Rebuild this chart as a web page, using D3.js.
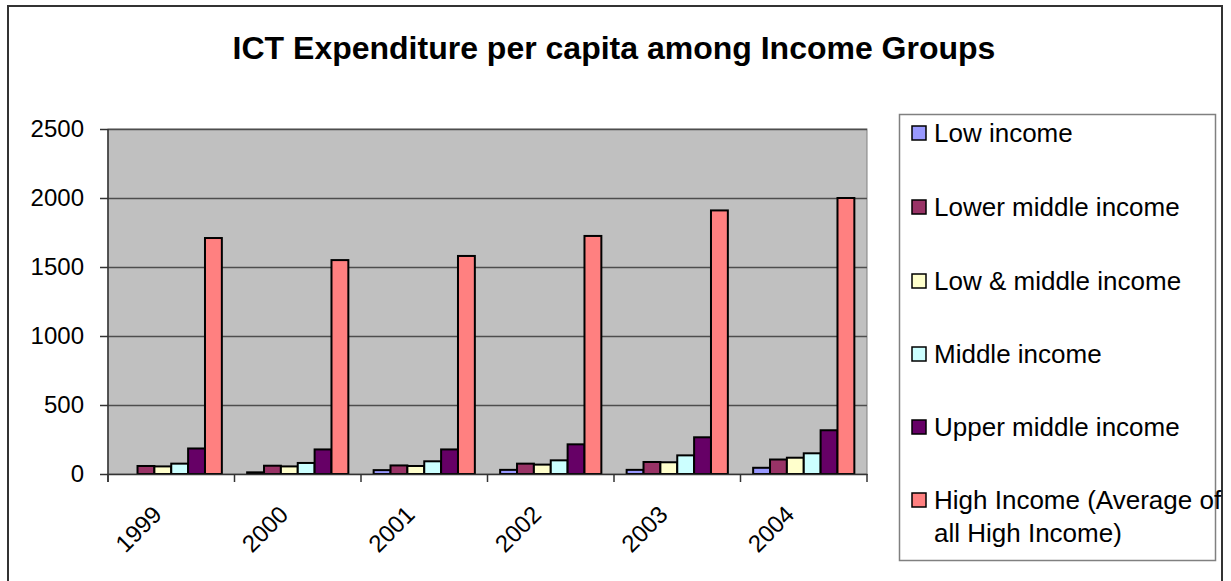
<!DOCTYPE html>
<html>
<head>
<meta charset="utf-8">
<script src="https://cdn.jsdelivr.net/npm/d3@7"></script>
<style>
  html, body { margin: 0; padding: 0; background: #fff; }
  svg { display: block; font-family: "Liberation Sans", Arial, sans-serif; }
</style>
</head>
<body>
<svg id="chart" width="1231" height="581"></svg>
<script>
// ---- data ----
const years = ["1999", "2000", "2001", "2002", "2003", "2004"];
const seriesNames = [
  "Low income",
  "Lower middle income",
  "Low & middle income",
  "Middle income",
  "Upper middle income",
  "High Income (Average of all High Income)"
];
const lowIncome    = [null, 12, 28, 30, 30, 45];
const lowerMiddle  = [58, 60, 62, 75, 87, 105];
const lowAndMiddle = [55, 55, 58, 68, 85, 118];
const middleIncome = [75, 80, 92, 99, 135, 150];
const upperMiddle  = [185, 178, 178, 215, 266, 317];
const highIncome   = [1710, 1550, 1580, 1725, 1910, 2000];
const yTicks = [0, 500, 1000, 1500, 2000, 2500];
const colors = ["#9999FF", "#993366", "#FFFFCC", "#CCFFFF", "#660066", "#FF8080"];

const seriesValues = [lowIncome, lowerMiddle, lowAndMiddle, middleIncome, upperMiddle, highIncome];

const svg = d3.select("#chart");

// chart outer border
svg.append("rect")
  .attr("x", 8).attr("y", 6).attr("width", 1214).attr("height", 600)
  .attr("fill", "#fff").attr("stroke", "#333").attr("stroke-width", 2);

// title
svg.append("text")
  .attr("x", 614).attr("y", 59)
  .attr("text-anchor", "middle")
  .attr("font-size", 32).attr("font-weight", "bold")
  .text("ICT Expenditure per capita among Income Groups");

const plot = { left: 108, right: 867, top: 129, bottom: 474 };

const x0 = d3.scaleBand().domain(years).range([plot.left, plot.right]).padding(0);
const x1 = d3.scaleBand().domain(d3.range(seriesNames.length))
  .range([0, x0.bandwidth()]).paddingInner(0).paddingOuter(0.75);
const y = d3.scaleLinear().domain([0, 2500]).range([plot.bottom, plot.top]);

// plot background
svg.append("rect")
  .attr("x", plot.left).attr("y", plot.top)
  .attr("width", plot.right - plot.left).attr("height", plot.bottom - plot.top)
  .attr("fill", "#C0C0C0").attr("stroke", "#808080").attr("stroke-width", 1);

// gridlines
svg.append("g").selectAll("line").data(yTicks.filter(d => d > 0)).join("line")
  .attr("x1", plot.left).attr("x2", plot.right)
  .attr("y1", d => Math.round(y(d)) + 0.5).attr("y2", d => Math.round(y(d)) + 0.5)
  .attr("stroke", "#4d4d4d").attr("stroke-width", 1.5);

// bars
const groups = svg.append("g").selectAll("g").data(years).join("g")
  .attr("transform", d => `translate(${x0(d)},0)`);
groups.selectAll("rect")
  .data((yr, i) => seriesValues.map((vals, s) => ({ s, v: vals[i] })).filter(d => d.v != null))
  .join("rect")
  .attr("x", d => x1(d.s))
  .attr("width", x1.bandwidth())
  .attr("y", d => y(d.v))
  .attr("height", d => y(0) - y(d.v))
  .attr("fill", d => colors[d.s])
  .attr("stroke", "#000").attr("stroke-width", 2);

// y axis
const yAxis = d3.axisLeft(y).tickValues(yTicks).tickSize(8).tickPadding(16).tickFormat(d3.format("d"));
const gy = svg.append("g").attr("transform", `translate(${plot.left},0)`).call(yAxis);
gy.select(".domain").attr("d", `M0,${plot.top}V${plot.bottom + 8}`).attr("stroke", "#333").attr("stroke-width", 1.5);
gy.selectAll(".tick line").attr("stroke", "#333").attr("stroke-width", 1.5);
gy.selectAll(".tick text").attr("font-size", 24).attr("fill", "#000")
  .attr("font-family", "Liberation Sans, Arial, sans-serif");

// x axis
const xAxis = d3.axisBottom(x0).tickSize(0).tickFormat("");
const gx = svg.append("g").attr("transform", `translate(0,${plot.bottom})`).call(xAxis);
gx.select(".domain").attr("stroke", "#333").attr("stroke-width", 1.5);
gx.selectAll(".tick").remove();
// category boundary tick marks
const boundaries = years.map(d => x0(d)).concat([x0(years[years.length - 1]) + x0.bandwidth()]);
gx.selectAll("line.bt").data(boundaries).join("line").attr("class", "bt")
  .attr("x1", d => d).attr("x2", d => d).attr("y1", 0).attr("y2", 8)
  .attr("stroke", "#333").attr("stroke-width", 1.5);
// rotated labels
gx.selectAll("text.yl").data(years).join("text").attr("class", "yl")
  .attr("transform", d => `translate(${x0(d) + x0.bandwidth() / 2 - 14},${36}) rotate(-45)`)
  .attr("text-anchor", "end")
  .attr("dy", "0.35em")
  .attr("font-size", 24)
  .attr("font-family", "Liberation Sans, Arial, sans-serif")
  .attr("fill", "#000")
  .text(d => d);

// legend
svg.append("rect")
  .attr("x", 899.5).attr("y", 114.5).attr("width", 316).attr("height", 446)
  .attr("fill", "#fff").attr("stroke", "#808080").attr("stroke-width", 1.5);
const legendY = [133, 207, 281, 354, 427, 500];
const lg = svg.append("g").selectAll("g").data(seriesNames).join("g")
  .attr("transform", (d, i) => `translate(0,${legendY[i]})`);
lg.append("rect")
  .attr("x", 912).attr("y", -7).attr("width", 14).attr("height", 14)
  .attr("fill", (d, i) => colors[i]).attr("stroke", "#000").attr("stroke-width", 1.5);
lg.append("text")
  .attr("x", 934).attr("y", 0).attr("dy", "0.35em")
  .attr("font-size", 26)
  .each(function (d) {
    const t = d3.select(this);
    if (d.startsWith("High Income")) {
      t.append("tspan").attr("x", 934).text("High Income (Average of");
      t.append("tspan").attr("x", 934).attr("dy", "1.27em").text("all High Income)");
    } else {
      t.text(d);
    }
  });
</script>
</body>
</html>
